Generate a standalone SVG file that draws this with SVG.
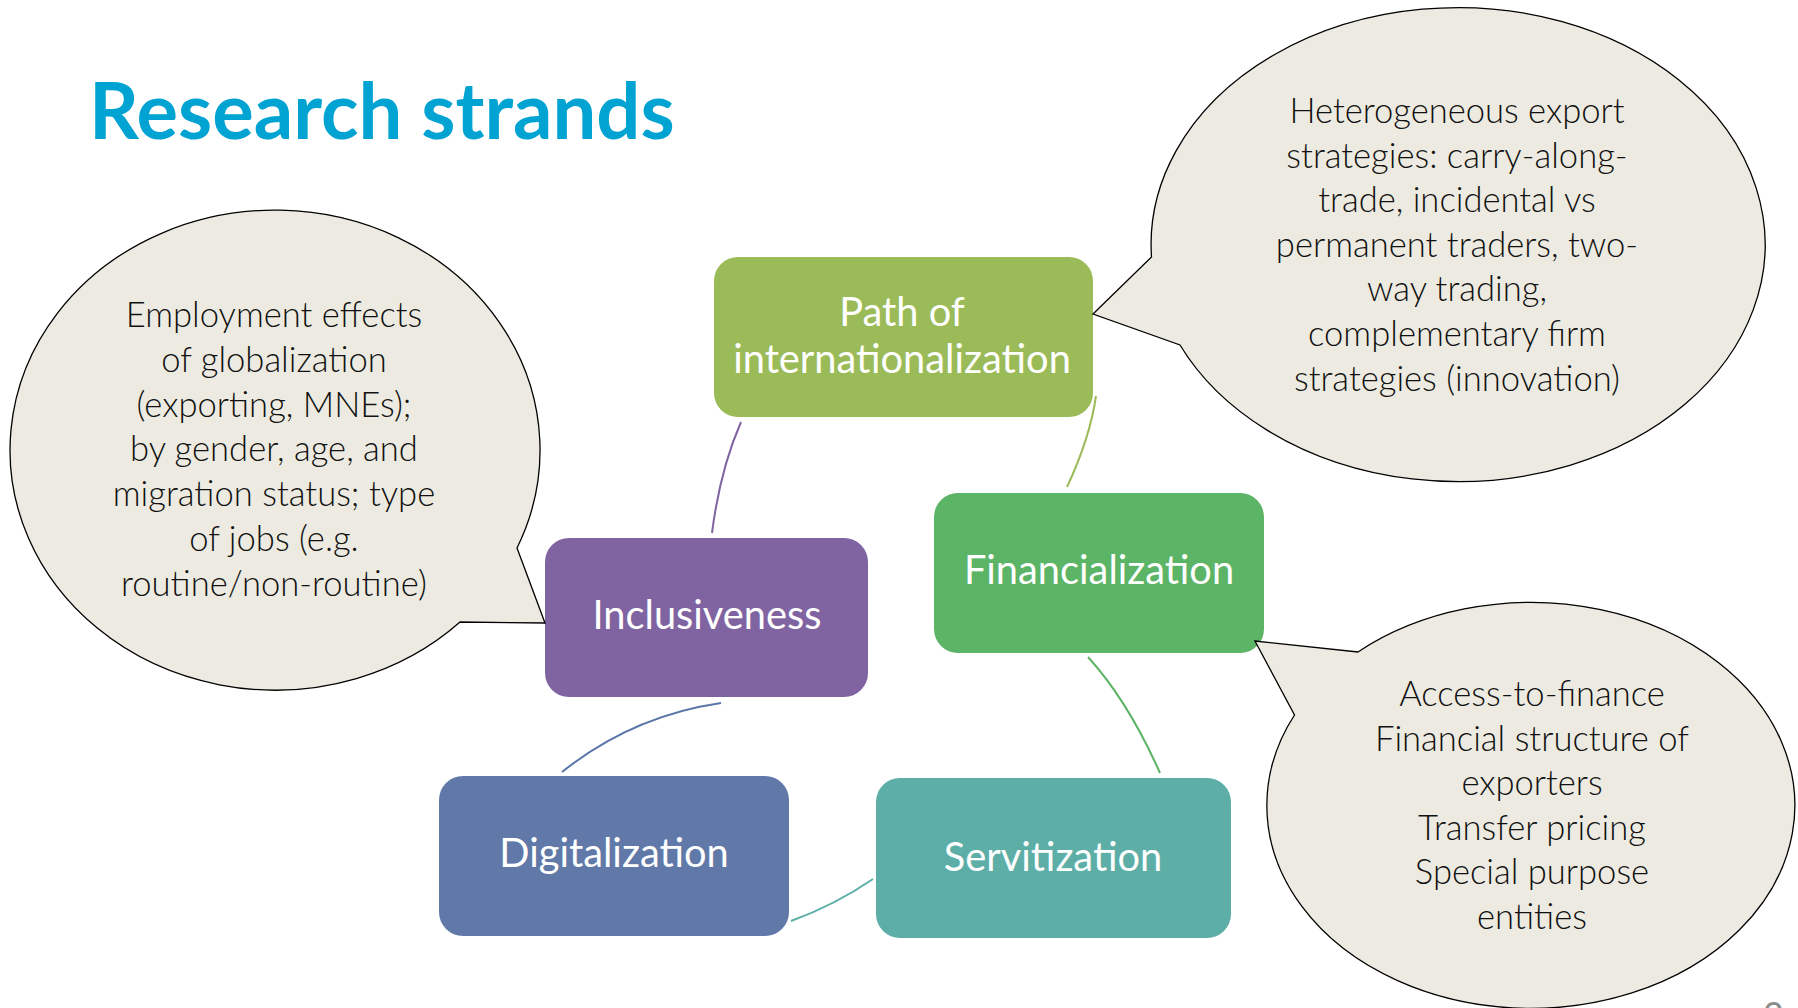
<svg xmlns="http://www.w3.org/2000/svg" width="1798" height="1008" viewBox="0 0 1798 1008">
<style>
.title{font-family:Lato,"Liberation Sans",sans-serif;font-weight:700;font-size:77.8px;fill:#00A3D1}
.box{font-family:Lato,"Liberation Sans",sans-serif;font-size:39.8px;fill:#FFFFFF;text-anchor:middle}
.bub{fill:#EDEBE1;stroke:#000000;stroke-width:1.3}
.bt{font-family:Lato,"Liberation Sans",sans-serif;font-weight:300;font-size:34.6px;fill:#111111;text-anchor:middle}
.conn{fill:none;stroke-width:2}
</style>
<rect width="1798" height="1008" fill="#FFFFFF"/>
<text class="title" x="89" y="139">Research strands</text>

<g id="connectors">
<path class="conn" stroke="#8064A2" d="M741,422 Q720,470 712,533"/>
<path class="conn" stroke="#9BBB59" d="M1096,396 Q1090,438 1067,487"/>
<path class="conn" stroke="#5CB466" d="M1088,657 Q1128,701 1160,773"/>
<path class="conn" stroke="#5DAEA6" d="M873,879 Q835,905 791,921"/>
<path class="conn" stroke="#5A76A8" d="M562,772 Q632,716 721,703"/>
</g>

<g id="path-of-internationalization">
<rect x="714" y="257" width="379" height="160" rx="24" fill="#9BBB59"/>
<text class="box" x="902" y="326">Path of</text>
<text class="box" x="902" y="373">internationalization</text>
</g>
<g id="financialization">
<rect x="934" y="493" width="330" height="160" rx="24" fill="#5CB466"/>
<text class="box" x="1099" y="584">Financialization</text>
</g>
<g id="inclusiveness">
<rect x="545" y="538" width="323" height="159" rx="24" fill="#8064A2"/>
<text class="box" x="707" y="629">Inclusiveness</text>
</g>
<g id="digitalization">
<rect x="439" y="776" width="350" height="160" rx="24" fill="#6079A8"/>
<text class="box" x="614" y="867">Digitalization</text>
</g>
<g id="servitization">
<rect x="876" y="778" width="355" height="160" rx="24" fill="#5DAEA6"/>
<text class="box" x="1053" y="871">Servitization</text>
</g>

<g id="bubble-inclusiveness">
<path class="bub" d="M545,623 L517,548 A265,240 0 1 0 460,622 Z"/>
<text class="bt" x="274" y="327">Employment effects</text>
<text class="bt" x="274" y="371.8">of globalization</text>
<text class="bt" x="274" y="416.6">(exporting, MNEs);</text>
<text class="bt" x="274" y="461.4">by gender, age, and</text>
<text class="bt" x="274" y="506.2">migration status; type</text>
<text class="bt" x="274" y="551">of jobs (e.g.</text>
<text class="bt" x="274" y="595.8">routine/non-routine)</text>
</g>

<g id="bubble-path">
<path class="bub" d="M1093,314 L1151.5,257 A307,237 0 1 1 1180,345 Z"/>
<text class="bt" x="1457" y="123">Heterogeneous export</text>
<text class="bt" x="1457" y="167.6">strategies: carry-along-</text>
<text class="bt" x="1457" y="212.2">trade, incidental vs</text>
<text class="bt" x="1457" y="256.8">permanent traders, two-</text>
<text class="bt" x="1457" y="301.4">way trading,</text>
<text class="bt" x="1457" y="346">complementary firm</text>
<text class="bt" x="1457" y="390.6">strategies (innovation)</text>
</g>

<g id="bubble-financialization">
<path class="bub" d="M1255,641 L1358,652 A264,203 0 1 1 1294.5,715 Z"/>
<text class="bt" x="1532" y="706">Access-to-finance</text>
<text class="bt" x="1532" y="750.6">Financial structure of</text>
<text class="bt" x="1532" y="795.2">exporters</text>
<text class="bt" x="1532" y="839.8">Transfer pricing</text>
<text class="bt" x="1532" y="884.4">Special purpose</text>
<text class="bt" x="1532" y="929">entities</text>
</g>

<text x="1763" y="1028" font-family="Lato,'Liberation Sans',sans-serif" font-size="36" fill="#8C8C8C">2</text>
</svg>
